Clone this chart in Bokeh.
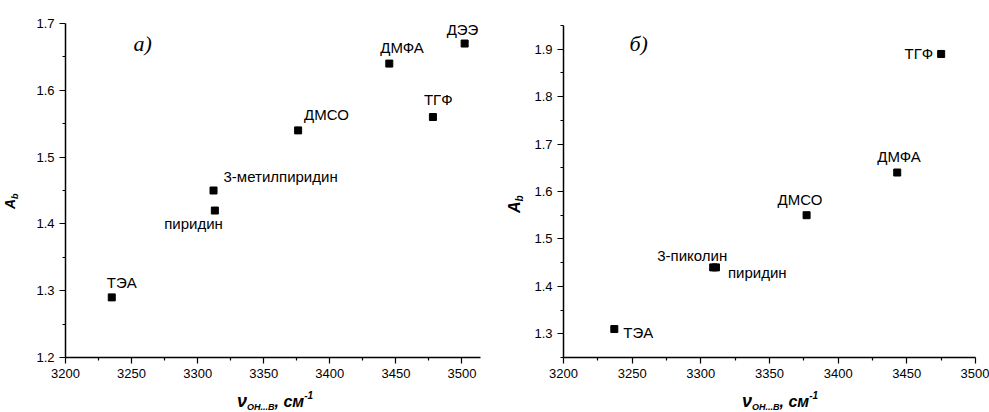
from bokeh.plotting import figure
from bokeh.layouts import row, column
from bokeh.models import Label, Range1d, FixedTicker, Div
from bokeh.embed import file_html
from bokeh.resources import INLINE

# ---- data: panel a ----
names_a = ["ТЭА", "пиридин", "3-метилпиридин", "ДМСО", "ДМФА", "ТГФ", "ДЭЭ"]
nu_a = [3235, 3313, 3312, 3376, 3445, 3478, 3502]
ab_a = [1.29, 1.42, 1.45, 1.54, 1.64, 1.56, 1.67]

# ---- data: panel b ----
names_b = ["ТЭА", "3-пиколин", "пиридин", "ДМСО", "ДМФА", "ТГФ"]
nu_b = [3237, 3309, 3311, 3377, 3443, 3475]
ab_b = [1.31, 1.44, 1.44, 1.55, 1.64, 1.89]

# tick values
x_ticks = [3200, 3250, 3300, 3350, 3400, 3450, 3500]
x_minor = [3225, 3275, 3325, 3375, 3425, 3475, 3525]
y_ticks_a = [1.2, 1.3, 1.4, 1.5, 1.6, 1.7]
y_minor_a = [1.25, 1.35, 1.45, 1.55, 1.65]
y_ticks_b = [1.3, 1.4, 1.5, 1.6, 1.7, 1.8, 1.9]
y_minor_b = [1.25, 1.35, 1.45, 1.55, 1.65, 1.75, 1.85, 1.95]

# label style (offset px right, offset px up, align)
style_a = [(-5, 15, "left"), (8, -13, "right"), (10, 14, "left"), (6, 16, "left"),
           (-9, 16, "left"), (-9, 18, "left"), (-18, 14, "left")]
style_b = [(9, -3, "left"), (14, 12, "right"), (12, -5, "left"), (-29, 16, "left"),
           (-20, 16, "left"), (-8, 0, "right")]

SANS = "Liberation Sans"
SERIF = "Liberation Serif"


def make_fig(width, height, xr, yr, bl, br, bt, bb, yt, ym):
    p = figure(width=width, height=height, output_backend="svg", toolbar_location=None,
               x_range=Range1d(*xr), y_range=Range1d(*yr),
               min_border_left=bl, min_border_right=br, min_border_top=bt, min_border_bottom=bb,
               margin=0)
    p.outline_line_color = None
    p.border_fill_color = None
    p.xgrid.visible = False
    p.ygrid.visible = False
    p.xaxis.ticker = FixedTicker(ticks=x_ticks, minor_ticks=x_minor)
    p.yaxis.ticker = FixedTicker(ticks=yt, minor_ticks=ym)
    for ax in (p.xaxis[0], p.yaxis[0]):
        ax.axis_line_width = 1.5
        ax.axis_line_color = "black"
        ax.major_tick_line_color = "black"
        ax.minor_tick_line_color = "black"
        ax.major_tick_line_width = 1.2
        ax.minor_tick_line_width = 1.2
        ax.major_tick_out = 6
        ax.major_tick_in = 0
        ax.minor_tick_out = 3
        ax.minor_tick_in = 0
        ax.major_label_text_font = SANS
        ax.major_label_text_font_size = "13px"
        ax.major_label_text_color = "black"
        ax.major_label_standoff = 5
    return p


def panel(names, nu, ab, styles, p, tag, tag_dx, tag_dy):
    p.scatter(nu, ab, marker="square", size=7, color="black")
    for n, x, y, (dx, dy, al) in zip(names, nu, ab, styles):
        p.add_layout(Label(x=x, y=y, x_offset=dx, y_offset=dy, text=n,
                           text_font=SANS, text_font_size="15px", text_color="black",
                           text_align=al, text_baseline="middle"))
    p.add_layout(Label(x=p.x_range.start, y=p.y_range.start, x_offset=tag_dx, y_offset=tag_dy,
                       text=tag, text_font=SERIF, text_font_size="22px",
                       text_font_style="italic", text_color="black", text_baseline="middle"))


def xlabel_div(width, height, left, top):
    html = (
        f'<div style="position:relative;width:{width}px;height:{height}px;">'
        f'<div style="position:absolute;left:{left}px;top:{top}px;white-space:nowrap;'
        f'font-family:\'{SANS}\';font-weight:bold;font-style:italic;color:black;line-height:18px;">'
        f'<span style="font-size:18px;">ν</span>'
        f'<span style="font-size:9px;vertical-align:-3px;">OH...B</span>'
        f'<span style="font-size:16px;">, см</span>'
        f'<span style="font-size:10px;vertical-align:8px;">-1</span>'
        f'</div></div>'
    )
    return Div(text=html, width=width, height=height, margin=0)


def ylabel_div(width, height, x, y, size):
    html = (
        f'<div style="position:relative;width:{width}px;height:{height}px;">'
        f'<div style="position:absolute;left:0;top:0;transform-origin:0 0;'
        f'transform:translate({x}px,{y}px) rotate(-90deg);white-space:nowrap;'
        f'font-family:\'{SANS}\';font-weight:bold;font-style:italic;color:black;'
        f'line-height:{size}px;font-size:{size}px;">'
        f'A<span style="font-size:{int(size*0.65)}px;vertical-align:-3px;">b</span>'
        f'</div></div>'
    )
    return Div(text=html, width=width, height=height, margin=0)


TOP_H = 385
# panel a: frame left 65, right 480, top 23, bottom 357 (page coords)
pa = make_fig(460, TOP_H, (3200, 3514), (1.2, 1.7), 35, 10, 23, 28, y_ticks_a, y_minor_a)
panel(names_a, nu_a, ab_a, style_a, pa, "а)", 68, 314)
ya = ylabel_div(30, TOP_H, 3, 209, 14)
xa = xlabel_div(490, 412 - TOP_H, 237, 2)

# panel b: frame left 563, right 975, top 25, bottom 357
pb = make_fig(470, TOP_H, (3200, 3500), (1.25, 1.95), 44, 14, 25, 28, y_ticks_b, y_minor_b)
panel(names_b, nu_b, ab_b, style_b, pb, "б)", 66, 314)
yb = ylabel_div(29, TOP_H, 17, 213, 16)
xb = xlabel_div(499, 412 - TOP_H, 252, 2)

left = column(row(ya, pa, spacing=0), xa, spacing=0)
right = column(row(yb, pb, spacing=0), xb, spacing=0)
layout = row(left, right, spacing=0)
open("out.html", "w").write(file_html(layout, INLINE))
